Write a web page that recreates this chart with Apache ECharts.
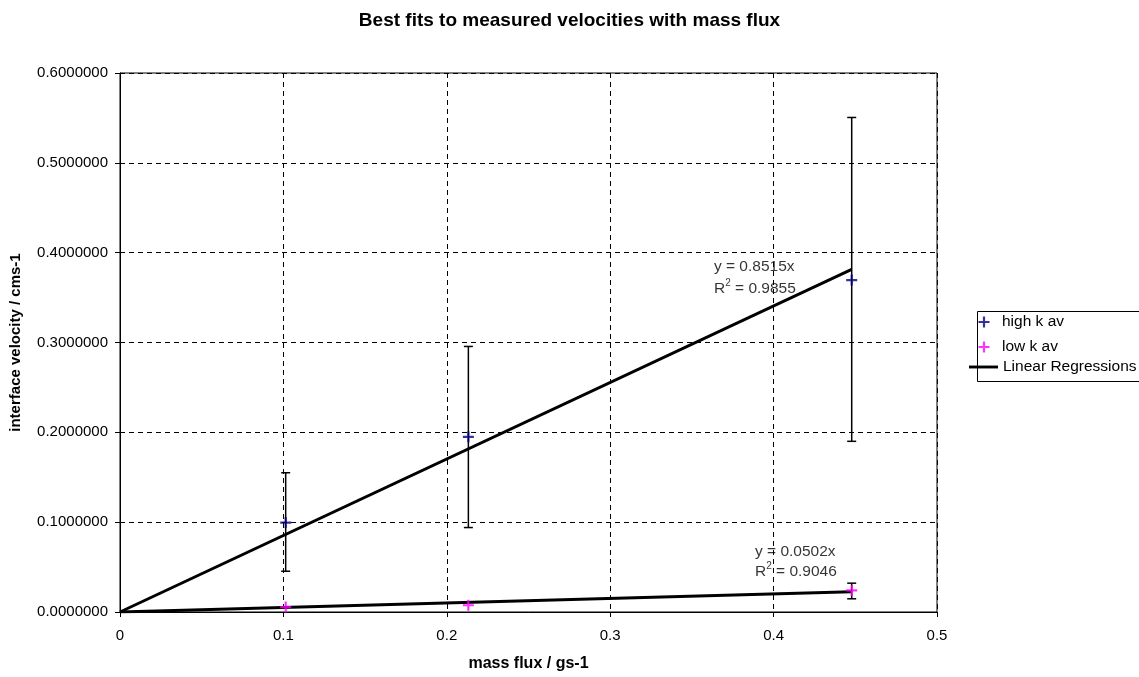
<!DOCTYPE html>
<html><head><meta charset="utf-8">
<script src="https://cdn.jsdelivr.net/npm/echarts@6/dist/echarts.min.js"></script>
<style>html,body{margin:0;padding:0;background:#fff}#c{width:1139px;height:677px}</style>
</head><body><div id="c"></div>
<script>
const massFlux = [0.1014, 0.2132, 0.4478];
const highK = [0.0996, 0.1950, 0.3695];
const highErrLow = [0.0454, 0.0940, 0.1900];
const highErrHigh = [0.1550, 0.2956, 0.5505];
const lowK = [0.0055, 0.0075, 0.0240];
const lowErrLow = [null, null, 0.0147];
const lowErrHigh = [null, null, 0.0321];
const highSlope = 0.8515, highR2 = '0.9855';
const lowSlope = 0.0502, lowR2 = '0.9046';
const xTicks = [0, 0.1, 0.2, 0.3, 0.4, 0.5];

const FONT = '"Liberation Sans", Arial, sans-serif';
const plus = 'path://M8,0H12V8H20V12H12V20H8V12H0V8H8Z';
const xEnd = massFlux[massFlux.length - 1];

function errData(lo, hi) {
  return massFlux.map((x, i) => lo[i] == null ? null : [x, lo[i], hi[i]]).filter(d => d);
}
function errSeries(data) {
  return {
    type: 'custom', silent: true, z: 2,
    renderItem: function (params, api) {
      const p1 = api.coord([api.value(0), api.value(1)]);
      const p2 = api.coord([api.value(0), api.value(2)]);
      const w = 4.5;
      const st = { stroke: '#000', lineWidth: 1.5 };
      return { type: 'group', children: [
        { type: 'line', shape: { x1: p1[0], y1: p1[1], x2: p2[0], y2: p2[1] }, style: st },
        { type: 'line', shape: { x1: p1[0] - w, y1: p1[1], x2: p1[0] + w, y2: p1[1] }, style: st },
        { type: 'line', shape: { x1: p2[0] - w, y1: p2[1], x2: p2[0] + w, y2: p2[1] }, style: st }
      ]};
    },
    encode: { x: 0, y: [1, 2] },
    data: data
  };
}
function eqLabel(pos, slope, r2, lh) {
  return {
    type: 'scatter', silent: true, symbolSize: 0, z: 5,
    data: [pos],
    label: {
      show: true, position: [0, 0], align: 'left', verticalAlign: 'top',
      formatter: '{a|y = ' + slope + 'x}\n{a|R}{s|2}{a| = ' + r2 + '}',
      rich: {
        a: { fontFamily: FONT, fontSize: 15.5, color: '#000', lineHeight: lh },
        s: { fontFamily: FONT, fontSize: 10, color: '#000', verticalAlign: 'top', lineHeight: lh - 6 }
      }
    }
  };
}
const legendText = {
  fontFamily: FONT, fontSize: 15.5, color: '#000', lineHeight: 16,
  rich: { g: { width: 7.5 }, t: { fontFamily: FONT, fontSize: 15.5, color: '#000', lineHeight: 16 } }
};
const legendTextLine = { fontFamily: FONT, fontSize: 15.5, color: '#000', lineHeight: 16 };

const chart = echarts.init(document.getElementById('c'));
chart.setOption({
  animation: false,
  backgroundColor: '#fff',
  title: {
    text: 'Best fits to measured velocities with mass flux',
    left: 'center', top: 6,
    textStyle: { fontFamily: FONT, fontSize: 19, fontWeight: 'bold', color: '#000' }
  },
  grid: { left: 120, right: 202, top: 73, bottom: 62, show: true, borderColor: '#000', borderWidth: 1, backgroundColor: '#fff' },
  legend: [
    { left: 978.5, top: 314, padding: 0, itemWidth: 11, itemHeight: 11, textStyle: legendText,
      formatter: n => '{g|}{t|' + n + '}',
      data: [{ name: 'high k av', icon: plus }] },
    { left: 978.5, top: 339, padding: 0, itemWidth: 11, itemHeight: 11, textStyle: legendText,
      formatter: n => '{g|}{t|' + n + '}',
      data: [{ name: 'low k av', icon: plus }] },
    { left: 969, top: 359, padding: 0, itemWidth: 29, itemHeight: 3, textStyle: legendTextLine,
      data: [{ name: 'Linear Regressions', icon: 'path://M0,0H30V3H0Z' }] }
  ],
  graphic: [{ type: 'rect', left: 975, top: 309, shape: { width: 170, height: 70 }, style: { fill: 'none', stroke: '#000', lineWidth: 1 }, z: -1 }],
  xAxis: {
    type: 'value', min: 0, max: 0.5, interval: 0.1,
    name: 'mass flux / gs-1', nameLocation: 'middle', nameGap: 44,
    nameTextStyle: { fontFamily: FONT, fontSize: 16, fontWeight: 'bold', color: '#000' },
    axisLine: { show: true, lineStyle: { color: '#000', width: 1 } },
    axisTick: { show: true, length: 5, lineStyle: { color: '#000' } },
    axisLabel: { fontFamily: FONT, fontSize: 15, color: '#000', margin: 16,
      formatter: v => { const i = Math.round(v * 10); return i === 0 ? '0' : String(xTicks[i]); } },
    splitLine: { show: true, lineStyle: { color: '#000', type: [5, 4], width: 1 } }
  },
  yAxis: {
    type: 'value', min: 0, max: 0.6, interval: 0.1,
    name: 'interface velocity / cms-1', nameLocation: 'middle', nameGap: 97,
    nameTextStyle: { fontFamily: FONT, fontSize: 15, fontWeight: 'bold', color: '#000' },
    axisLine: { show: true, lineStyle: { color: '#000', width: 1 } },
    axisTick: { show: true, length: 5, lineStyle: { color: '#000' } },
    axisLabel: { fontFamily: FONT, fontSize: 15, color: '#000', margin: 12, formatter: v => v.toFixed(7) },
    splitLine: { show: true, lineStyle: { color: '#000', type: [5, 4], width: 1 } }
  },
  series: [
    errSeries(errData(highErrLow, highErrHigh)),
    errSeries(errData(lowErrLow, lowErrHigh)),
    { name: 'Linear Regressions', type: 'line', showSymbol: false, symbol: 'none', z: 3,
      lineStyle: { color: '#000', width: 3 }, itemStyle: { color: '#000' },
      data: [[0, 0], [xEnd, highSlope * xEnd]] },
    { name: 'Linear Regressions', type: 'line', showSymbol: false, symbol: 'none', z: 3,
      lineStyle: { color: '#000', width: 3 }, itemStyle: { color: '#000' },
      data: [[0, 0], [xEnd, lowSlope * xEnd]] },
    { name: 'high k av', type: 'scatter', symbol: plus, symbolSize: 11, z: 4,
      itemStyle: { color: '#000080' }, data: massFlux.map((x, i) => [x, highK[i]]) },
    { name: 'low k av', type: 'scatter', symbol: plus, symbolSize: 11, z: 4,
      itemStyle: { color: '#FF00FF' }, data: massFlux.map((x, i) => [x, lowK[i]]) },
    eqLabel([0.3635, 0.3965], highSlope, highR2, 22),
    eqLabel([0.3886, 0.0785], lowSlope, lowR2, 20)
  ]
});
</script></body></html>
